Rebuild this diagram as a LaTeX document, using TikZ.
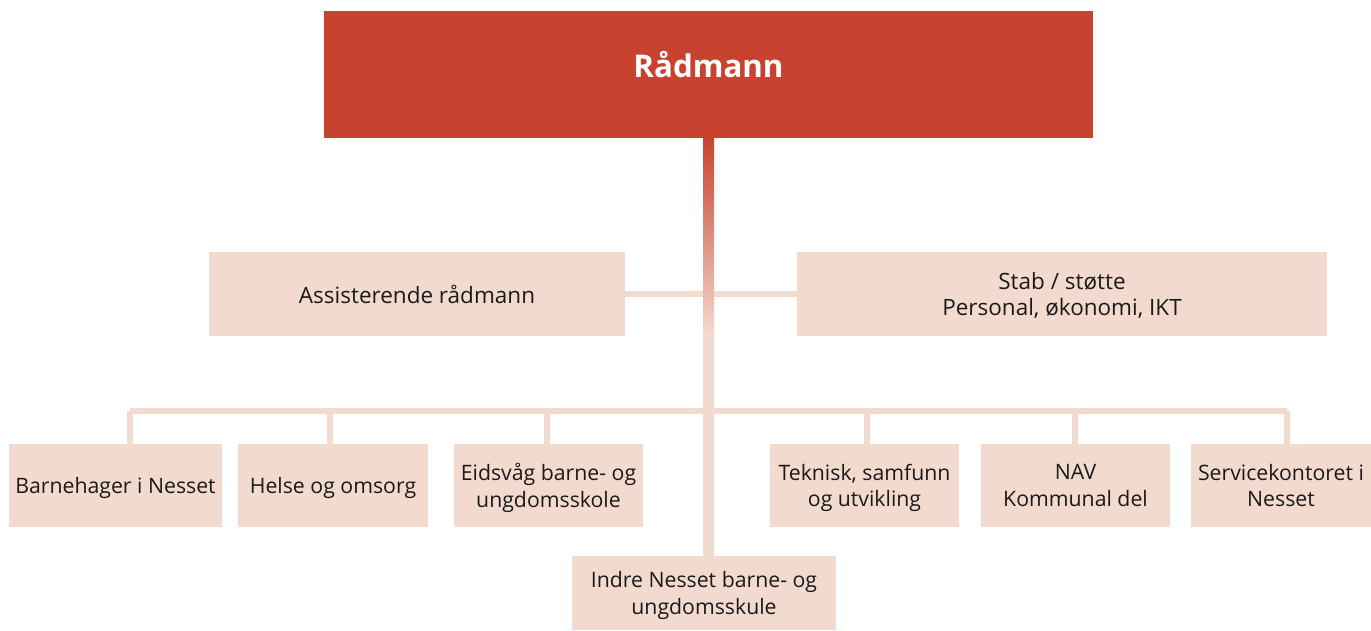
\documentclass[tikz,border=0pt]{standalone}
\usepackage{fontspec}
\setmainfont{Open Sans}
\definecolor{raud}{HTML}{C8432F}
\definecolor{lys}{HTML}{F3DACE}
\definecolor{tekst}{HTML}{1A1A1A}
\begin{document}
\begin{tikzpicture}[x=0.02cm, y=-0.02cm, line join=round, text=tekst,
	boks/.style={fill=lys, align=center, inner sep=0pt, minimum height=1.66cm,
		font=\fontsize{12.1}{15.2}\selectfont, text depth=-0.34cm},
	sideboks/.style={boks, minimum height=1.68cm,
		font=\fontsize{12.8}{15.3}\selectfont, text depth=-0.14cm},
	topp/.style={fill=raud, text=white, font=\fontsize{17.8}{20}\selectfont\bfseries,
		inner sep=0pt, text depth=0.4cm, minimum width=15.38cm, minimum height=2.54cm},
	lenke/.style={draw=lys, line width=0.12cm}]
	\useasboundingbox (0,0) rectangle (1371,631);
	\def\buss{411} % hoyde paa samleline
	% boksar
	\node[topp] (radmann) at (708.5,74.5) {Rådmann};
	\node[sideboks, minimum width=8.32cm] (ass) at (417,294) {Assisterende rådmann};
	\node[sideboks, minimum width=10.6cm] (stab) at (1062,294) {Stab / støtte\\Personal, økonomi, IKT};
	\node[boks, minimum width=4.26cm] (barn) at (115.5,485.5) {Barnehager i Nesset};
	\node[boks, minimum width=3.8cm] (helse) at (333,485.5) {Helse og omsorg};
	\node[boks, minimum width=3.78cm] (eids) at (548.5,485.5) {Eidsvåg barne- og\\ungdomsskole};
	\node[boks, minimum width=3.78cm] (tekn) at (864.5,485.5) {Teknisk, samfunn\\og utvikling};
	\node[boks, minimum width=3.78cm] (nav) at (1075.5,485.5) {NAV\\Kommunal del};
	\node[boks, minimum width=3.6cm] (serv) at (1281,485.5) {Servicekontoret i\\Nesset};
	\node[boks, minimum width=5.28cm, minimum height=1.48cm, text depth=-0.46cm] (indre) at (704,593) {Indre Nesset barne- og\\ungdomsskule};
	% linjer
	\draw[lenke] (ass.east) -- (stab.west);
	\draw[lenke] (130,\buss) -- (1287,\buss);
	\draw[lenke] (130,\buss) -- (130,0 |- barn.north);
	\draw[lenke] (330,\buss) -- (330,0 |- helse.north);
	\draw[lenke] (547,\buss) -- (547,0 |- eids.north);
	\draw[lenke] (867,\buss) -- (867,0 |- tekn.north);
	\draw[lenke] (1075,\buss) -- (1075,0 |- nav.north);
	\draw[lenke] (1287,\buss) -- (1287,0 |- serv.north);
	% stamme med fargeovergang
	\fill[lys] (703,138) rectangle (714,0 |- indre.north);
	\shade[top color=raud, bottom color=lys] (703,0 |- radmann.south) rectangle (714,335);
\end{tikzpicture}
\end{document}
